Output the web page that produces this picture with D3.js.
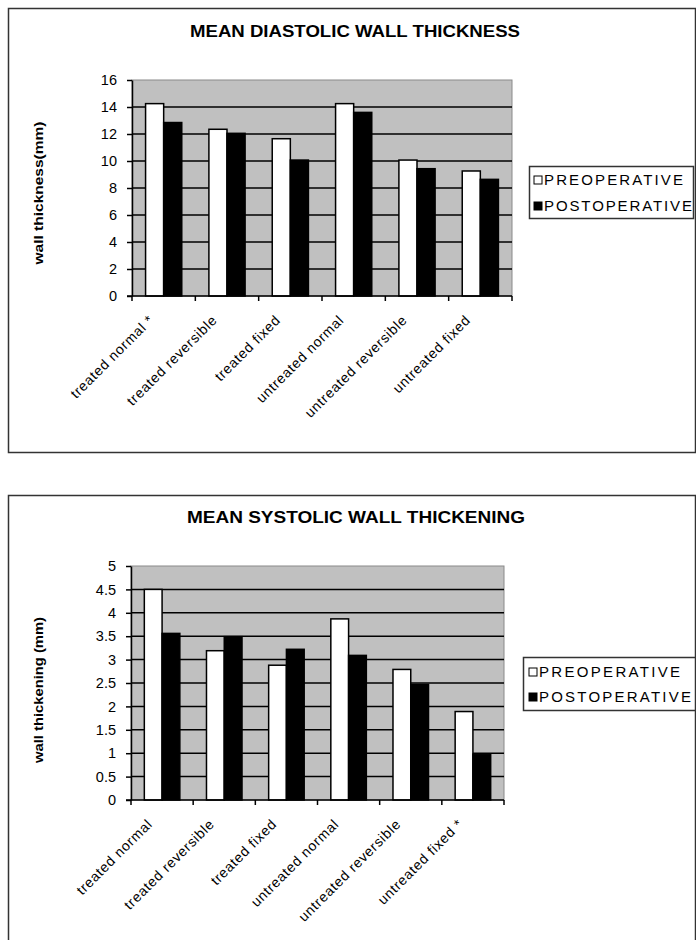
<!DOCTYPE html>
<html>
<head>
<meta charset="utf-8">
<script src="https://cdn.jsdelivr.net/npm/d3@7"></script>
<style>
  html, body { margin: 0; padding: 0; background: #fff; }
  svg { display: block; }
  text { font-family: "Liberation Sans", Arial, sans-serif; fill: #000; }
</style>
</head>
<body>
<svg id="chart" width="696" height="940"></svg>
<script>
// Series names shared by both panels
const seriesNames = ["PREOPERATIVE", "POSTOPERATIVE"];

// Panel 1: mean diastolic wall thickness (mm)
const diastolicTitle = "MEAN DIASTOLIC WALL THICKNESS";
const diastolicAxisTitle = "wall thickness(mm)";
const diastolicCategories = ["treated normal *", "treated reversible", "treated fixed",
  "untreated normal", "untreated reversible", "untreated fixed"];
const diastolicPre  = [14.25, 12.35, 11.65, 14.25, 10.07, 9.26];
const diastolicPost = [12.85, 12.05, 10.07, 13.6, 9.43, 8.64];
const diastolicTicks = [0, 2, 4, 6, 8, 10, 12, 14, 16];
const diastolicTickLabels = ["0", "2", "4", "6", "8", "10", "12", "14", "16"];

// Panel 2: mean systolic wall thickening (mm)
const systolicTitle = "MEAN SYSTOLIC WALL THICKENING";
const systolicAxisTitle = "wall thickening (mm)";
const systolicCategories = ["treated normal", "treated reversible", "treated fixed",
  "untreated normal", "untreated reversible", "untreated fixed *"];
const systolicPre  = [4.5, 3.19, 2.88, 3.87, 2.79, 1.89];
const systolicPost = [3.56, 3.49, 3.22, 3.09, 2.47, 0.98];
const systolicTicks = [0, 0.5, 1, 1.5, 2, 2.5, 3, 3.5, 4, 4.5, 5];
const systolicTickLabels = ["0", "0.5", "1", "1.5", "2", "2.5", "3", "3.5", "4", "4.5", "5"];

const svg = d3.select("#chart");

function drawPanel(opts) {
  const { frame, plot, title, axisTitle, categories, pre, post, ticks, tickLabels, legend } = opts;
  const g = svg.append("g");

  // outer chart border
  g.append("rect")
    .attr("x", frame.x + 0.5).attr("y", frame.y + 0.5)
    .attr("width", frame.w).attr("height", frame.h)
    .attr("fill", "#fff").attr("stroke", "#333").attr("stroke-width", 1.5);

  // title
  g.append("text")
    .attr("x", title.cx).attr("y", title.y)
    .attr("text-anchor", "middle")
    .attr("font-size", 16).attr("font-weight", "bold")
    .attr("textLength", title.len).attr("lengthAdjust", "spacingAndGlyphs")
    .text(title.text);

  const x = d3.scaleBand().domain(categories).range([plot.x0, plot.x1]);
  const xs = d3.scaleBand().domain(seriesNames).range([0, x.bandwidth()]).paddingOuter(0.75);
  const y = d3.scaleLinear().domain([ticks[0], ticks[ticks.length - 1]]).range([plot.y1, plot.y0]);

  // plot area background
  g.append("rect")
    .attr("x", plot.x0).attr("y", plot.y0)
    .attr("width", plot.x1 - plot.x0).attr("height", plot.y1 - plot.y0)
    .attr("fill", "#c0c0c0").attr("stroke", "#8a8a8a").attr("stroke-width", 1);

  // horizontal gridlines
  g.append("g").selectAll("line")
    .data(ticks.slice(1, -1))
    .join("line")
    .attr("x1", plot.x0).attr("x2", plot.x1)
    .attr("y1", d => y(d)).attr("y2", d => y(d))
    .attr("stroke", "#000").attr("stroke-width", 1.5);

  // bars
  const rows = categories.map((c, i) => ({ c, vals: [pre[i], post[i]] }));
  const fills = ["#fff", "#000"];
  const grp = g.append("g").selectAll("g")
    .data(rows)
    .join("g")
    .attr("transform", d => `translate(${x(d.c)},0)`);
  grp.selectAll("rect")
    .data(d => d.vals.map((v, k) => ({ v, k })))
    .join("rect")
    .attr("x", d => xs(seriesNames[d.k]))
    .attr("width", xs.bandwidth())
    .attr("y", d => y(d.v))
    .attr("height", d => y(0) - y(d.v))
    .attr("fill", d => fills[d.k])
    .attr("stroke", "#000").attr("stroke-width", 1.5);

  // y axis
  const yAxis = d3.axisLeft(y)
    .tickValues(ticks)
    .tickFormat((d, i) => tickLabels[i])
    .tickSize(5).tickSizeOuter(0).tickPadding(10);
  const ya = g.append("g")
    .attr("transform", `translate(${plot.x0},0)`)
    .call(yAxis);
  ya.select(".domain").attr("stroke", "#000").attr("stroke-width", 1.5);
  ya.selectAll(".tick line").attr("stroke", "#000").attr("stroke-width", 1.5);
  ya.selectAll(".tick text")
    .attr("font-size", 14.5)
    .attr("font-family", "Liberation Sans, Arial, sans-serif")
    .attr("fill", "#000");

  // x axis: line with ticks on category boundaries
  const xa = g.append("g");
  xa.append("line")
    .attr("x1", plot.x0 - 5).attr("x2", plot.x1)
    .attr("y1", plot.y1).attr("y2", plot.y1)
    .attr("stroke", "#000").attr("stroke-width", 1.5);
  const bounds = d3.range(categories.length + 1).map(i => plot.x0 + i * x.step());
  xa.selectAll("line.tk")
    .data(bounds)
    .join("line").attr("class", "tk")
    .attr("x1", d => d).attr("x2", d => d)
    .attr("y1", plot.y1).attr("y2", plot.y1 + 5)
    .attr("stroke", "#000").attr("stroke-width", 1.5);
  xa.selectAll("text")
    .data(categories)
    .join("text")
    .attr("transform", d => `translate(${x(d) + x.bandwidth() / 2 - 9},${plot.y1 + 25}) rotate(-45)`)
    .attr("text-anchor", "end")
    .attr("font-size", 14)
    .attr("letter-spacing", 0.7)
    .text(d => d);

  // y axis title
  g.append("text")
    .attr("transform", `translate(${axisTitle.cx},${axisTitle.cy}) rotate(-90)`)
    .attr("text-anchor", "middle")
    .attr("dy", "0.35em")
    .attr("font-size", 13.5).attr("font-weight", "bold")
    .attr("textLength", axisTitle.len).attr("lengthAdjust", "spacingAndGlyphs")
    .text(axisTitle.text);

  // legend
  const lg = g.append("g");
  lg.append("rect")
    .attr("x", legend.x + 0.5).attr("y", legend.y + 0.5)
    .attr("width", legend.w).attr("height", legend.h)
    .attr("fill", "#fff").attr("stroke", "#333").attr("stroke-width", 1.5);
  const items = lg.selectAll("g")
    .data(seriesNames)
    .join("g")
    .attr("transform", (d, i) => `translate(0,${legend.rows[i]})`);
  items.append("rect")
    .attr("x", legend.mx).attr("y", -9)
    .attr("width", 8).attr("height", 8)
    .attr("fill", (d, i) => fills[i])
    .attr("stroke", "#000").attr("stroke-width", 1);
  items.append("text")
    .attr("x", legend.tx)
    .attr("font-size", 15)
    .attr("textLength", (d, i) => legend.lens[i])
    .attr("lengthAdjust", "spacing")
    .text(d => d);
}

drawPanel({
  frame: { x: 8, y: 8, w: 687, h: 444 },
  plot: { x0: 132, x1: 512, y0: 80, y1: 296 },
  title: { text: diastolicTitle, cx: 355, y: 37, len: 330 },
  axisTitle: { text: diastolicAxisTitle, cx: 38, cy: 193, len: 143 },
  categories: diastolicCategories,
  pre: diastolicPre, post: diastolicPost,
  ticks: diastolicTicks, tickLabels: diastolicTickLabels,
  legend: { x: 529, y: 166, w: 164, h: 52, rows: [185, 211], mx: 534, tx: 544, lens: [139, 148] }
});

drawPanel({
  frame: { x: 8, y: 495, w: 687, h: 470 },
  plot: { x0: 131, x1: 504, y0: 566, y1: 800 },
  title: { text: systolicTitle, cx: 356, y: 523, len: 338 },
  axisTitle: { text: systolicAxisTitle, cx: 38, cy: 690, len: 146 },
  categories: systolicCategories,
  pre: systolicPre, post: systolicPost,
  ticks: systolicTicks, tickLabels: systolicTickLabels,
  legend: { x: 523, y: 657, w: 172, h: 53, rows: [677, 702], mx: 529, tx: 539, lens: [141, 152] }
});
</script>
</body>
</html>
